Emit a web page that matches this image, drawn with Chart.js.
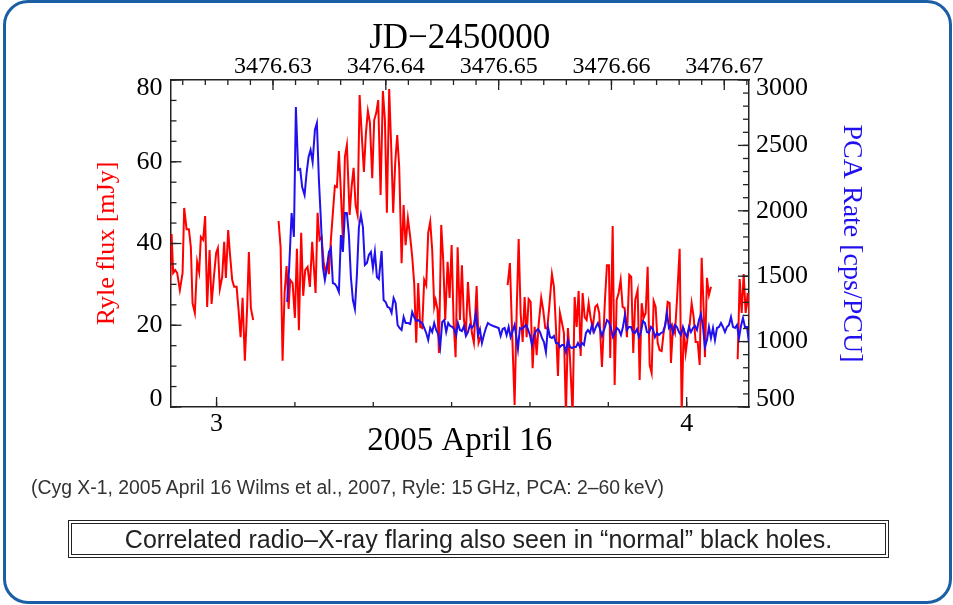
<!DOCTYPE html>
<html>
<head>
<meta charset="utf-8">
<script src="https://cdn.jsdelivr.net/npm/chart.js@4.4.1/dist/chart.umd.min.js"></script>
<style>
  body { margin: 0; background: #fff; }
  #wrap { position: relative; width: 953px; height: 605px; overflow: hidden; }
  .frame {
    position: absolute; left: 3px; top: 0; width: 949px; height: 604px;
    box-sizing: border-box; border: 3.5px solid #1a5fa6; border-radius: 25px;
  }
  #chart { position: absolute; left: 0; top: 0; }
  .note {
    position: absolute; left: 31px; top: 476px; white-space: nowrap;
    font: 19.4px "Liberation Sans", Arial, sans-serif; color: #333; line-height: 22px;
  }
  .box {
    position: absolute; left: 68px; top: 520px; width: 821px; height: 38px;
    box-sizing: border-box; border: 4px double #222; text-align: center;
    font: 25px "Liberation Sans", Arial, sans-serif; color: #222; line-height: 30px;
  }
</style>
</head>
<body>
<div id="wrap">
  <div class="frame"></div>
  <canvas id="chart" width="953" height="605"></canvas>
  <div class="note">(Cyg X-1, 2005 April 16 Wilms et al., 2007, Ryle: 15&#8201;GHz, PCA: 2–60&#8201;keV)</div>
  <div class="box">Correlated radio–X-ray flaring also seen in “normal” black holes.</div>
</div>
<script>
// UT hours on 2005 April 16
const hourTicks = [3, 4];
const jdTicks = [3476.63, 3476.64, 3476.65, 3476.66, 3476.67];
const fluxTicks = [0, 20, 40, 60, 80];
const rateTicks = [500, 1000, 1500, 2000, 2500, 3000];

// Ryle 15 GHz flux (mJy), null = gap
const ryleTime = [
  2.9006, 2.9043, 2.9077, 2.9119, 2.9162, 2.9219, 2.9277, 2.9311, 2.9362, 2.9411,
  2.9453, 2.9489, 2.9538, 2.9587, 2.9630, 2.9666, 2.9715, 2.9757, 2.9800, 2.9851,
  2.9894, 2.9943, 2.9991, 3.0028, 3.0070, 3.0119, 3.0162, 3.0198, 3.0247, 3.0283,
  3.0332, 3.0374, 3.0426, 3.0468, 3.0511, 3.0553, 3.0602, 3.0651, 3.0687, 3.0730,
  3.0779,
  3.1000,
  3.1319, 3.1362, 3.1404, 3.1447, 3.1489, 3.1532, 3.1566, 3.1617, 3.1666, 3.1709,
  3.1751, 3.1800, 3.1843, 3.1885, 3.1936, 3.1985, 3.2034,
  3.2106, 3.2149, 3.2191, 3.2234, 3.2277, 3.2319, 3.2362, 3.2389, 3.2432, 3.2474,
  3.2517, 3.2560, 3.2602, 3.2645, 3.2687, 3.2730, 3.2772, 3.2830, 3.2872, 3.2915,
  3.2957, 3.3000, 3.3043, 3.3085, 3.3134, 3.3177, 3.3219, 3.3262, 3.3311, 3.3353,
  3.3396, 3.3438, 3.3489, 3.3538, 3.3581, 3.3623, 3.3672, 3.3715, 3.3757, 3.3800,
  3.3843, 3.3885, 3.3936, 3.3979, 3.4021, 3.4070, 3.4119, 3.4162, 3.4204, 3.4247,
  3.4289, 3.4332, 3.4374, 3.4417, 3.4460, 3.4502, 3.4545, 3.4587, 3.4630, 3.4660,
  3.4702, 3.4730, 3.4779, 3.4821, 3.4864, 3.4915, 3.4957, 3.5000, 3.5043, 3.5085,
  3.5128, 3.5177, 3.5219, 3.5262, 3.5304, 3.5347, 3.5389, 3.5432, 3.5474, 3.5532,
  3.5574, 3.5617,
  3.5900,
  3.6191, 3.6240, 3.6283, 3.6340, 3.6383, 3.6426, 3.6468, 3.6511, 3.6553, 3.6596,
  3.6638, 3.6681, 3.6723, 3.6766, 3.6809, 3.6851, 3.6906, 3.6949, 3.6992, 3.7034,
  3.7077, 3.7134, 3.7177, 3.7219, 3.7262, 3.7304, 3.7347, 3.7389, 3.7432, 3.7474,
  3.7517, 3.7574, 3.7617, 3.7660, 3.7702, 3.7745, 3.7787, 3.7830, 3.7872, 3.7915,
  3.7957, 3.8000, 3.8055, 3.8098, 3.8140, 3.8198, 3.8262, 3.8304, 3.8347, 3.8374,
  3.8426, 3.8468, 3.8511, 3.8553, 3.8596, 3.8638, 3.8681, 3.8730, 3.8779, 3.8821,
  3.8864, 3.8906, 3.8957, 3.9000, 3.9043, 3.9085, 3.9128, 3.9170, 3.9213, 3.9255,
  3.9298, 3.9340, 3.9383, 3.9426, 3.9468, 3.9511, 3.9553, 3.9596, 3.9638, 3.9666,
  3.9709, 3.9751, 3.9794, 3.9851, 3.9894, 3.9936, 3.9979, 4.0021, 4.0064, 4.0106,
  4.0149, 4.0191, 4.0234, 4.0277, 4.0319, 4.0362, 4.0389, 4.0432, 4.0474, 4.0517,
  4.0800,
  4.1085, 4.1128, 4.1170, 4.1213, 4.1255, 4.1298, 4.1340
];
const ryleFlux = [
  29.4, 42.3, 32.8, 33.5, 32.8, 28.6, 32.8, 48.7, 43.5, 43.5,
  39.1, 25.4, 23.0, 35.5, 33.0, 41.6, 40.9, 46.7, 24.5, 38.4,
  25.2, 31.8, 37.7, 38.9, 28.9, 31.8, 40.4, 31.6, 43.3, 37.7,
  31.1, 29.4, 29.4, 23.7, 17.1, 26.7, 11.3, 24.5, 37.9, 24.2,
  21.3,
  null,
  45.5, 39.1, 11.3, 27.9, 34.5, 24.0, 31.1, 30.3, 21.8, 38.7,
  18.8, 42.6, 27.2, 33.5, 34.3, 29.4, 40.4,
  27.9, 47.5, 40.9, 41.6, 35.5, 33.0, 35.2, 32.5, 40.9, 47.5,
  54.1, 53.8, 62.6, 52.4, 40.9, 61.2, 64.1, 47.0, 53.8, 58.5,
  49.4, 47.0, 76.3, 67.3, 57.5, 67.0, 72.4, 69.5, 56.0, 70.2,
  71.9, 75.1, 51.9, 77.3, 70.2, 47.5, 77.8, 63.6, 47.5, 59.7,
  66.5, 58.7, 35.2, 49.4, 39.6, 46.2, 41.6, 36.7, 30.3, 15.7,
  30.3, 19.6, 19.3, 31.1, 29.8, 42.6, 45.3, 38.4, 24.5, 26.2,
  23.7, 13.2, 44.5, 36.0, 21.3, 35.5, 26.7, 39.6, 20.6, 12.2,
  39.1, 21.3, 34.7, 21.3, 18.1, 30.6, 23.0, 18.1, 15.7, 29.6,
  15.7, 17.1,
  null,
  29.8, 35.2, 19.6, 0.5, 23.0, 41.1, 23.0, 15.9, 26.9, 17.1,
  26.4, 25.7, 9.5, 19.6, 12.7, 20.1, 26.7, 23.7, 19.3, 19.1,
  24.5, 32.5, 29.4, 19.6, 7.6, 23.0, 20.6, 18.1, -2.0, 19.3,
  12.2, -2.0, 26.9, 19.6, 28.4, 12.5, 27.9, 22.0, 21.3, 25.4,
  21.8, 19.3, 24.5, 25.0, 23.0, 9.8, 26.2, 34.7, 34.7, 12.0,
  44.3, 5.4, 26.2, 27.9, 31.1, 24.5, 24.2, 17.1, 32.3, 31.8,
  13.2, 26.2, 28.6, 6.6, 25.4, 21.8, 23.0, 34.3, 10.3, 8.3,
  25.9, 24.5, 15.7, 13.9, 13.7, 18.3, 20.6, 25.7, 25.4, 10.8,
  19.6, 18.1, 26.2, 38.7, -2.0, 19.3, 13.2, 17.1, 20.1, 25.4,
  22.0, 15.9, 15.9, 10.3, 36.5, 23.7, 12.2, 31.6, 27.4, 29.4,
  null,
  11.7, 31.3, 23.0, 32.5, 23.0, 27.9, 21.3
];

// RXTE PCA count rate (cps/PCU)
const pcaTime = [
  3.1502, 3.1545, 3.1596, 3.1645, 3.1687, 3.1736, 3.1779, 3.1821, 3.1872, 3.1915,
  3.1957, 3.2000, 3.2043, 3.2092, 3.2134, 3.2177, 3.2219, 3.2262, 3.2304, 3.2347,
  3.2389, 3.2432, 3.2474, 3.2517, 3.2560, 3.2602, 3.2645, 3.2687, 3.2730, 3.2772,
  3.2815, 3.2857, 3.2900, 3.2943, 3.2985, 3.3028, 3.3070, 3.3113, 3.3155, 3.3198,
  3.3240, 3.3283, 3.3326, 3.3368, 3.3411, 3.3453, 3.3511, 3.3553, 3.3596, 3.3638,
  3.3681, 3.3723, 3.3766, 3.3809, 3.3851, 3.3894, 3.3936, 3.3979, 3.4021, 3.4077,
  3.4119, 3.4162, 3.4204, 3.4247, 3.4289, 3.4332, 3.4374, 3.4417, 3.4460, 3.4502,
  3.4545, 3.4587, 3.4630, 3.4672, 3.4715, 3.4757, 3.4800, 3.4843, 3.4885, 3.4928,
  3.4970, 3.5013, 3.5055, 3.5098, 3.5134, 3.5177, 3.5219, 3.5262, 3.5304, 3.5347,
  3.5389, 3.5432, 3.5474, 3.5517, 3.5560, 3.5602, 3.5645, 3.5687, 3.5730, 3.5772,
  3.5830, 3.5885, 3.5943, 3.6000, 3.6043, 3.6085, 3.6128, 3.6170, 3.6213, 3.6255,
  3.6298, 3.6340, 3.6383, 3.6411, 3.6453, 3.6496, 3.6538, 3.6581, 3.6623, 3.6666,
  3.6709, 3.6751, 3.6794, 3.6836, 3.6879, 3.6921, 3.6964, 3.7006, 3.7049, 3.7092,
  3.7134, 3.7177, 3.7219, 3.7262, 3.7304, 3.7347, 3.7389, 3.7432, 3.7474, 3.7517,
  3.7560, 3.7602, 3.7645, 3.7687, 3.7730, 3.7772, 3.7815, 3.7857, 3.7900, 3.7943,
  3.7985, 3.8028, 3.8070, 3.8113, 3.8155, 3.8198, 3.8262, 3.8304, 3.8347, 3.8389,
  3.8432, 3.8474, 3.8517, 3.8560, 3.8602, 3.8645, 3.8687, 3.8730, 3.8772, 3.8815,
  3.8857, 3.8900, 3.8943, 3.8985, 3.9028, 3.9070, 3.9113, 3.9155, 3.9198, 3.9240,
  3.9283, 3.9326, 3.9368, 3.9411, 3.9453, 3.9496, 3.9538, 3.9581, 3.9623, 3.9666,
  3.9709, 3.9751, 3.9794, 3.9836, 3.9879, 3.9921, 3.9964, 4.0006, 4.0049, 4.0091,
  4.0134, 4.0177, 4.0219, 4.0262, 4.0304, 4.0347, 4.0389, 4.0432, 4.0474, 4.0517,
  4.0560, 4.0602, 4.0645, 4.0687, 4.0730, 4.0772, 4.0815, 4.0857, 4.0900, 4.0943,
  4.0985, 4.1028, 4.1070, 4.1113, 4.1155, 4.1198, 4.1240, 4.1283, 4.1326
];
const pcaRate = [
  1303, 1570, 1983, 1800, 2794, 2312, 2320, 2182, 2121, 2289,
  2411, 2465, 2373, 2618, 2671, 2235, 1930, 1570, 1471, 1563,
  1685, 1716, 1448, 1440, 1417, 1379, 1815, 1685, 1983, 1983,
  1815, 1494, 1318, 1249, 1509, 1876, 1968, 1876, 1586, 1601,
  1662, 1685, 1563, 1685, 1494, 1479, 1693, 1318, 1303, 1265,
  1257, 1219, 1333, 1295, 1127, 1104, 1089, 1188, 1142, 1142,
  1135, 1226, 1188, 1157, 1165, 1150, 1142, 1104, 1066, 1012,
  1104, 1073, 1142, 1089, 1058, 959, 1150, 1165, 1073, 1142,
  1119, 1112, 1096, 1050, 1142, 1089, 1081, 1119, 1043, 1073,
  1127, 1104, 1127, 1219, 1050, 1096, 989, 1050, 1104, 1142,
  1127, 1119, 1112, 1104, 1043, 1096, 1104, 1050, 1112, 1035,
  1081, 1127, 1020, 943, 1104, 1096, 1112, 1127, 1096, 1050,
  974, 1043, 1081, 1096, 1073, 1028, 997, 920, 1112, 1035,
  1028, 1043, 989, 989, 959, 974, 974, 920, 1012, 959,
  951, 959, 959, 989, 959, 989, 974, 1066, 1089, 1066,
  1127, 1073, 1112, 1142, 1096, 1043, 1112, 1165, 1150, 1104,
  1035, 1066, 1104, 1089, 1050, 1112, 1203, 1089, 1112, 1112,
  1073, 1066, 1096, 1035, 1073, 1157, 1142, 1073, 1066, 1112,
  1096, 1035, 1066, 1050, 1066, 1073, 1119, 1219, 1104, 1127,
  1066, 1127, 1112, 1073, 1050, 1112, 1066, 1035, 1112, 1073,
  1104, 1119, 1089, 1165, 1211, 1112, 959, 1012, 1112, 1028,
  1104, 1012, 1104, 1112, 1142, 1112, 1073, 1112, 1127, 1188,
  1112, 1104, 1127, 1028, 1119, 1180, 1112, 1112, 989
];

const hourMin = 2.902, hourMax = 4.1326;
const serif = '"Liberation Serif", "Times New Roman", serif';
const ink = '#222';

// IDL style inward ticks, major and minor
const inwardTicks = {
  id: 'inwardTicks',
  afterDatasetsDraw(chart) {
    const {ctx, chartArea: a, scales} = chart;
    ctx.save();
    ctx.strokeStyle = ink;
    ctx.lineWidth = 1.3;
    const marks = (scale, step, len) => {
      const first = Math.ceil(scale.min / step - 1e-6);
      for (let i = first; i * step <= scale.max + 1e-9; i++) {
        const p = scale.getPixelForValue(i * step);
        ctx.beginPath();
        if (scale.position === 'bottom') { ctx.moveTo(p, a.bottom); ctx.lineTo(p, a.bottom - len); }
        else if (scale.position === 'top') { ctx.moveTo(p, a.top); ctx.lineTo(p, a.top + len); }
        else if (scale.position === 'left') { ctx.moveTo(a.left, p); ctx.lineTo(a.left + len, p); }
        else { ctx.moveTo(a.right, p); ctx.lineTo(a.right - len, p); }
        ctx.stroke();
      }
    };
    marks(scales.x, 1 / 6, 5); marks(scales.x, 1, 10);
    marks(scales.x2, 0.002, 5); marks(scales.x2, 0.01, 10);
    marks(scales.y, 5, 6); marks(scales.y, 20, 11);
    marks(scales.y1, 100, 6); marks(scales.y1, 500, 11);
    ctx.restore();
  }
};

// end labels of the vertical axes sit a little inside the frame, as in IDL
const insideEnds = (list) => (v) => {
  if (v === list[list.length - 1]) return ['', String(v)];
  if (v === list[0]) return [String(v), ''];
  return String(v);
};

const axisBase = (list, fmt, size) => ({
  type: 'linear',
  bounds: 'data',
  afterBuildTicks: s => { s.ticks = list.map(v => ({value: v})); },
  grid: {display: false, drawTicks: false},
  border: {display: true, color: ink, width: 1.5},
  ticks: {font: {family: serif, size: size, lineHeight: 16 / size}, color: '#000', autoSkip: false, maxRotation: 0, callback: fmt}
});

const config = {
  type: 'line',
  data: {
    datasets: [
      {
        label: 'PCA',
        data: pcaTime.map((t, i) => ({x: t, y: pcaRate[i]})),
        borderColor: '#2010ee',
        borderWidth: 2,
        xAxisID: 'x',
        yAxisID: 'y1'
      },
      {
        label: 'Ryle',
        data: ryleTime.map((t, i) => ({x: t, y: ryleFlux[i]})),
        borderColor: '#ff0000',
        borderWidth: 2,
        xAxisID: 'x',
        yAxisID: 'y'
      }
    ]
  },
  options: {
    responsive: false,
    animation: false,
    spanGaps: false,
    layout: {padding: 0},
    elements: {point: {radius: 0}, line: {tension: 0}},
    plugins: {legend: {display: false}, tooltip: {enabled: false}},
    scales: {
      x: {
        ...axisBase(hourTicks, v => String(v), 26),
        position: 'bottom',
        min: hourMin, max: hourMax,
        afterFit: s => { s.height = 198; },
        title: {display: true, text: '2005 April 16', color: '#000', font: {family: serif, size: 33}, padding: {top: 0, bottom: 144}}
      },
      x2: {
        ...axisBase(jdTicks, v => v.toFixed(2), 24),
        axis: 'x',
        position: 'top',
        min: 3476.5 + hourMin / 24, max: 3476.5 + hourMax / 24,
        afterFit: s => { s.height = 80; },
        title: {display: true, text: 'JD−2450000', color: '#000', font: {family: serif, size: 35}, padding: {top: 18, bottom: 0}}
      },
      y: {
        ...axisBase(fluxTicks, insideEnds(fluxTicks), 26),
        position: 'left',
        min: 0, max: 80,
        afterFit: s => { s.width = 170.5; },
        title: {display: true, text: 'Ryle flux [mJy]', color: '#ff0000', font: {family: serif, size: 26}, padding: {top: 92, bottom: 0}}
      },
      y1: {
        ...axisBase(rateTicks, insideEnds(rateTicks), 26),
        position: 'right',
        min: 500, max: 3000,
        afterFit: s => { s.width = 204; },
        title: {display: true, text: 'PCA Rate [cps/PCU]', color: '#2010ee', font: {family: serif, size: 28}, padding: {top: 85, bottom: 0}}
      }
    }
  },
  plugins: [inwardTicks]
};

config.options.scales.x.ticks.padding = 2;
config.options.scales.x.ticks.font.lineHeight = 1.2;
config.options.scales.x2.ticks.padding = -1;
config.options.scales.x2.ticks.font.lineHeight = 1.2;
config.options.scales.y.ticks.padding = 8;
config.options.scales.y1.ticks.padding = 7;

const myChart = new Chart(document.getElementById('chart'), config);
</script>
</body>
</html>
